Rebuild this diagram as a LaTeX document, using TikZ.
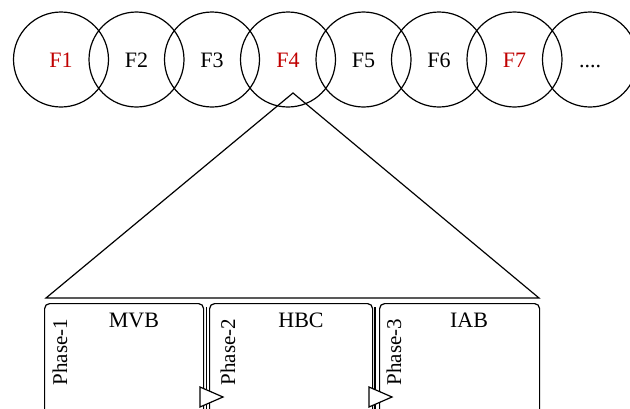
\documentclass[tikz,border=0pt]{standalone}
\usepackage{fontspec}
\setmainfont{Liberation Serif}
\usepackage{tikz}
\usetikzlibrary{calc,positioning}
\definecolor{fred}{RGB}{192,0,0}
\begin{document}
\begin{tikzpicture}[x=1pt,y=-1pt,line width=1.2pt,
fcircle/.style={circle,draw,minimum size=95pt,inner sep=0pt,
  font=\fontsize{22}{26}\selectfont,text height=15pt,text depth=0pt},
phasebox/.style={draw,rounded corners=5pt,anchor=north west,minimum height=140pt},
title/.style={font=\fontsize{22}{26}\selectfont},
phase/.style={font=\fontsize{21}{25}\selectfont,rotate=90}]
\useasboundingbox (0,0) rectangle (630,408);
\clip (0,0) rectangle (630,408);
% frames
\node[fcircle,text=fred] (f1) at (61,59.5){F1};
\node[fcircle] (f2) at (136.5,59.5){F2};
\node[fcircle] (f3) at (212,59.5){F3};
\node[fcircle,text=fred] (f4) at (288,59.5){F4};
\node[fcircle] (f5) at (363.5,59.5){F5};
\node[fcircle] (f6) at (439,59.5){F6};
\node[fcircle,text=fred] (f7) at (514.5,59.5){F7};
\node[fcircle] (f8) at (590,59.5){....};
% zoom triangle
\coordinate (apex) at (293,93);
\coordinate (bl) at (46,298);
\coordinate (br) at (539,298);
\draw (bl) -- (apex) -- (br) -- cycle;
% phases
\node[phasebox,minimum width=159pt] (box1) at (44,303){};
\node[phasebox,minimum width=163pt] (box2) at (209,303){};
\node[phasebox,minimum width=160pt] (box3) at (379,303){};
\node[title] (mvb) at (134,320){MVB};
\node[title] (hbc) at (301,320){HBC};
\node[title] (iab) at (469,320){IAB};
\node[phase] (ph1) at (60,352){Phase-1};
\node[phase] (ph2) at (228,352){Phase-2};
\node[phase] (ph3) at (394,352){Phase-3};
% links between phases
\coordinate (l1) at (206.5,307);
\coordinate (l2) at (375,307);
\draw (l1) -- ++(0,120);
\draw (l2) -- ++(0,120);
\draw[fill=white] (200,387) -- (223,397) -- (200,407) -- cycle;
\draw[fill=white] (369,387) -- (392,397) -- (369,407) -- cycle;
\end{tikzpicture}
\end{document}
